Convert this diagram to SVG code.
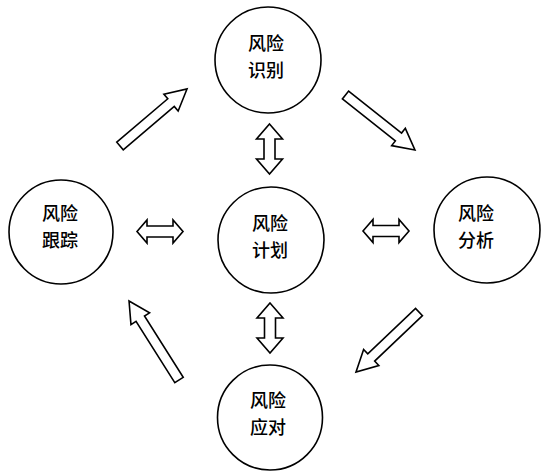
<svg xmlns="http://www.w3.org/2000/svg" width="546" height="475" viewBox="0 0 546 475">
<style>
.node circle{fill:#fff;stroke:#000;stroke-width:1.6}
.node text{font-family:"Noto Sans CJK SC","Noto Sans",sans-serif;font-size:18px;font-weight:500;text-anchor:middle;fill:#000}
.arrow{fill:#fff;stroke:#000;stroke-width:1.6;stroke-linejoin:miter}
</style>
<rect width="546" height="475" fill="#fff"/>
<g id="connectors">
<path class="arrow" d="M0,-5 H67 V-11 L88,0 L67,11 V5 H0 Z" transform="translate(120,146) rotate(-40.4)"/>
<path class="arrow" d="M0,-5 H67.6 V-11 L88.6,0 L67.6,11 V5 H0 Z" transform="translate(345.5,95) rotate(38.4)"/>
<path class="arrow" d="M0,-5 H72.5 V-11 L93.5,0 L72.5,11 V5 H0 Z" transform="translate(179,380) rotate(-122.3)"/>
<path class="arrow" d="M0,-5 H66 V-11 L87,0 L66,11 V5 H0 Z" transform="translate(419,312) rotate(136.4)"/>
<path class="arrow" d="M269.5,124 L282.5,139 H275 V159 H282.5 L269.5,174 L256.5,159 H264 V139 H256.5 Z"/>
<path class="arrow" d="M270,303 L283,318 H275.5 V338 H283 L270,353 L257,338 H264.5 V318 H257 Z"/>
<path class="arrow" d="M137,231.5 L147,220 V226 H173 V220 L183,231.5 L173,243 V237 H147 V243 Z"/>
<path class="arrow" d="M363,231 L373,219.5 V225.5 H399 V219.5 L409,231 L399,242.5 V236.5 H373 V242.5 Z"/>
</g>
<g id="node-identify" class="node">
<circle cx="268" cy="60" r="53"/>
<text x="266" y="50">风险</text>
<text x="266" y="77">识别</text>
</g>
<g id="node-track" class="node">
<circle cx="61" cy="232" r="52"/>
<text x="60" y="220">风险</text>
<text x="60" y="247">跟踪</text>
</g>
<g id="node-plan" class="node">
<circle cx="271" cy="240" r="53"/>
<text x="270" y="230">风险</text>
<text x="270" y="257">计划</text>
</g>
<g id="node-analyze" class="node">
<circle cx="487" cy="230" r="53"/>
<text x="476" y="220">风险</text>
<text x="476" y="247">分析</text>
</g>
<g id="node-respond" class="node">
<circle cx="270" cy="417.5" r="52.5"/>
<text x="268" y="407">风险</text>
<text x="268" y="434">应对</text>
</g>
</svg>
